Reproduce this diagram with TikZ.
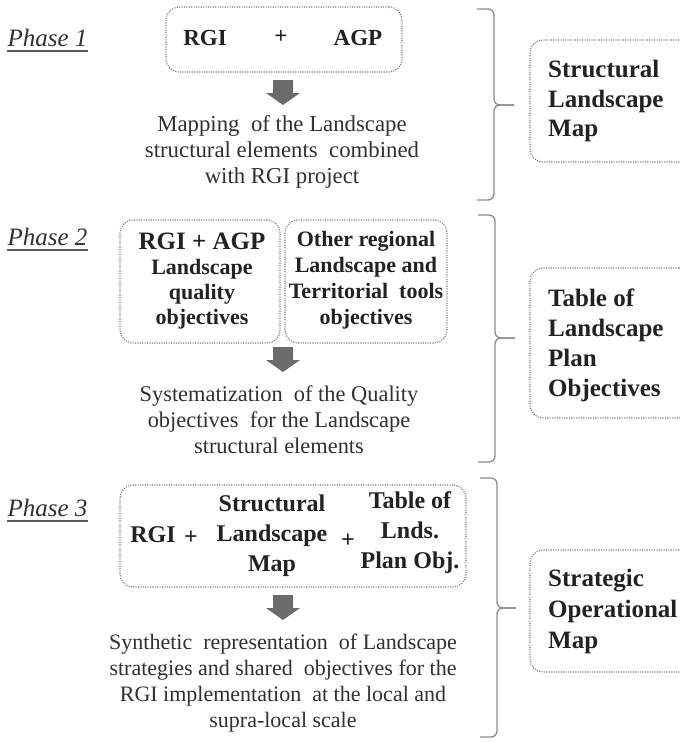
\documentclass[tikz,border=0pt]{standalone}
\usepackage{fontspec}
\setmainfont{Liberation Serif}
\definecolor{boxgray}{HTML}{7A7A7A}
\definecolor{arrowgray}{HTML}{6B6B6B}
\definecolor{bracegray}{HTML}{8C8C8C}
\definecolor{txtdark}{HTML}{222222}
\definecolor{txtreg}{HTML}{303030}
\begin{document}
\begin{tikzpicture}[x=1pt,y=-1pt,
  dbox/.style={draw=boxgray, line width=1.1pt, dash pattern=on 1.1pt off 1.3pt, rounded corners=13pt, inner sep=0pt},
  btxt/.style={text=txtdark, inner sep=0pt, align=center, font=\fontsize{24}{30}\selectfont\bfseries},
  rtxt/.style={text=txtreg, inner sep=0pt, align=center, font=\fontsize{22}{26}\selectfont},
  phase/.style={text=txtreg, inner sep=0pt, font=\fontsize{25}{28}\selectfont\itshape},
  uline/.style={draw=txtreg!80, line width=1.6pt},
  blockarrow/.style={fill=arrowgray},
  bracestyle/.style={draw=bracegray, line width=1.3pt, rounded corners=6pt},
  side/.style={text=txtdark, inner sep=0pt, align=left, anchor=west, font=\fontsize{25}{29.5}\selectfont\bfseries}
]
\clip (0,0) rectangle (680,742);
\fill[white] (0,0) rectangle (680,742);

% ---------- Phase labels ----------
\node[phase] (p1) at (47.5,38) {Phase 1};
\node[phase] (p2) at (47.5,237) {Phase 2};
\node[phase] (p3) at (47.5,508) {Phase 3};
\foreach \p in {p1,p2,p3}{
  \draw[uline] ([yshift=-4pt]\p.south west) -- ([yshift=-4pt]\p.south east);
}

% ---------- Phase 1 ----------
\node[dbox, minimum width=236pt, minimum height=65pt] (b1) at (284,39.5) {};
\node[btxt, font=\fontsize{23}{26}\selectfont\bfseries] (rgi1) at (205,38) {RGI};
\node[btxt, font=\fontsize{23}{26}\selectfont\bfseries] (plus1) at (281,37) {+};
\node[btxt, font=\fontsize{23}{26}\selectfont\bfseries] (agp1) at (358,38) {AGP};
\coordinate (a1) at (283,80);
\fill[blockarrow] (a1) ++(-10,0) -- ++(20,0) -- ++(0,13) -- ++(7,0) -- ++(-17,12) -- ++(-17,-12) -- ++(7,0) -- cycle;
\node[rtxt, font=\fontsize{22.8}{26}\selectfont] (t1) at (282,152) {Mapping \ of the Landscape\\structural elements \ combined\\with RGI project};

% ---------- Phase 2 ----------
\node[dbox, minimum width=160pt, minimum height=123pt] (b2a) at (200,281.5) {};
\node[dbox, minimum width=162pt, minimum height=123pt] (b2b) at (366,281.5) {};
\node[btxt, font=\fontsize{22}{25}\selectfont\bfseries] (t2a) at (202,281)
  {{\fontsize{25}{25}\selectfont RGI + AGP}\\Landscape\\quality\\objectives};
\node[btxt, font=\fontsize{22}{26}\selectfont\bfseries] (t2b) at (366,280)
  {Other regional\\Landscape and\\Territorial \ tools\\objectives};
\coordinate (a2) at (283,347);
\fill[blockarrow] (a2) ++(-10,0) -- ++(20,0) -- ++(0,13) -- ++(7,0) -- ++(-17,12) -- ++(-17,-12) -- ++(7,0) -- cycle;
\node[rtxt, font=\fontsize{22.4}{26}\selectfont] (t2) at (279,420) {Systematization \ of the Quality\\objectives \ for the Landscape\\structural elements};

% ---------- Phase 3 ----------
\node[dbox, minimum width=346pt, minimum height=102pt] (b3) at (293,536) {};
\node[btxt] (rgi3) at (153,535) {RGI};
\node[btxt] (plus3a) at (191,538) {+};
\node[btxt] (slm3) at (272,536) {Structural\\Landscape\\Map};
\node[btxt] (plus3b) at (348,541) {+};
\node[btxt] (tlp3) at (410,533) {Table of\\Lnds.\\Plan Obj.};
\coordinate (a3) at (283,595);
\fill[blockarrow] (a3) ++(-10,0) -- ++(20,0) -- ++(0,13) -- ++(7,0) -- ++(-17,12) -- ++(-17,-12) -- ++(7,0) -- cycle;
\node[rtxt] (t3) at (283,683) {Synthetic \ representation \ of Landscape\\strategies and shared \ objectives for the\\RGI implementation \ at the local and\\supra-local scale};

% ---------- Braces ----------
\draw[bracestyle] (477,9) -- (494,9) -- (494,105) -- (514,105);
\draw[bracestyle] (514,105) -- (494,105) -- (494,200) -- (477,200);
\draw[bracestyle] (478,215) -- (495,215) -- (495,338) -- (515,338);
\draw[bracestyle] (515,338) -- (495,338) -- (495,462) -- (478,462);
\draw[bracestyle] (480,478) -- (497,478) -- (497,608) -- (516,608);
\draw[bracestyle] (516,608) -- (497,608) -- (497,737) -- (480,737);

% ---------- Result boxes ----------
\node[dbox, minimum width=162pt, minimum height=122pt] (r1) at (611,101) {};
\node[side] (r1t) at (548,101) {Structural\\Landscape\\Map};
\node[dbox, minimum width=162pt, minimum height=150pt] (r2) at (611,343) {};
\node[side, font=\fontsize{25}{30}\selectfont\bfseries] (r2t) at (548,345) {Table of\\Landscape\\Plan\\Objectives};
\node[dbox, minimum width=162pt, minimum height=122pt] (r3) at (611,611) {};
\node[side, font=\fontsize{25}{31}\selectfont\bfseries] (r3t) at (548,611) {Strategic\\Operational\\Map};
\end{tikzpicture}
\end{document}
